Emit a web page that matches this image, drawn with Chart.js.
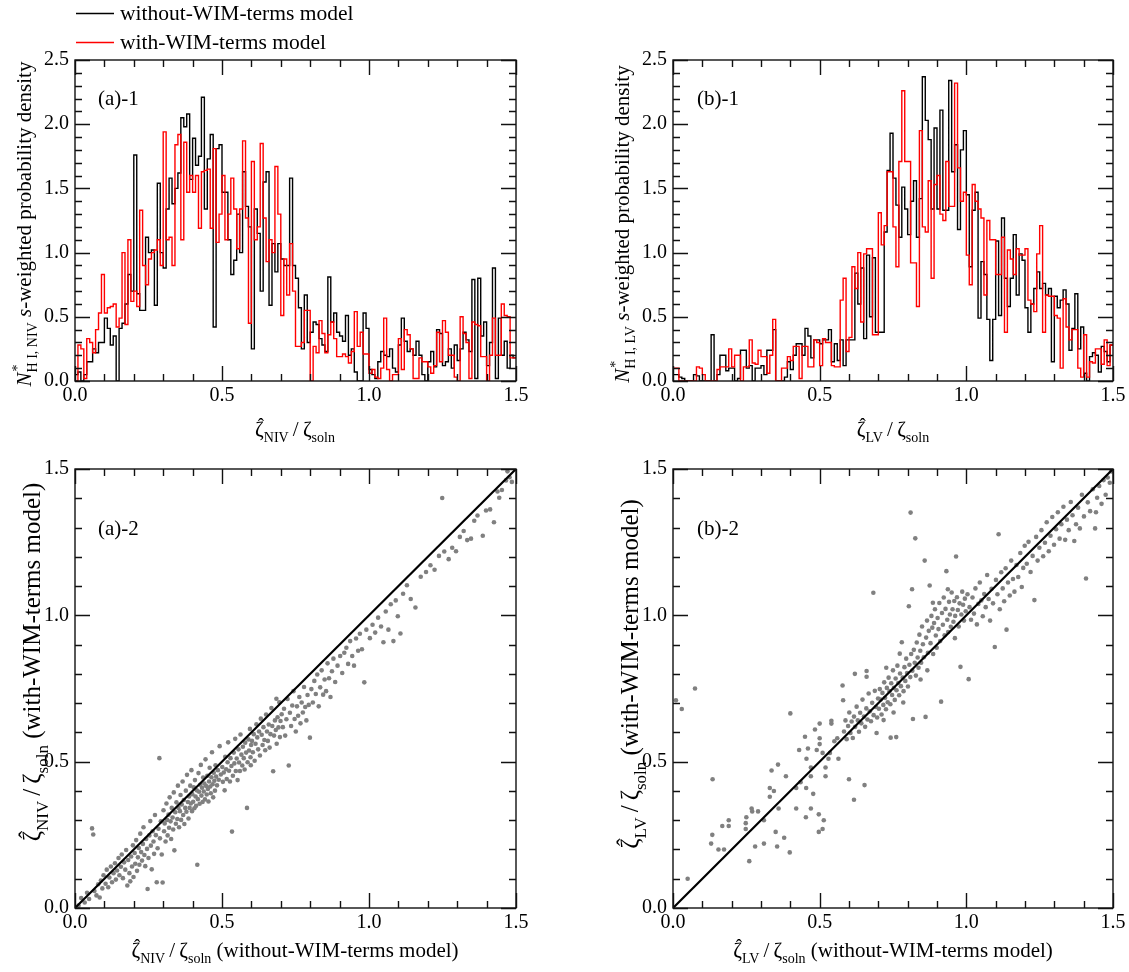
<!DOCTYPE html>
<html>
<head>
<meta charset="utf-8">
<script src="https://cdn.jsdelivr.net/npm/chart.js@4.4.1/dist/chart.umd.min.js"></script>
<style>
  body { margin: 0; background: #fff; }
  #wrap { position: relative; width: 1129px; height: 972px; }
  canvas { position: absolute; }
</style>
</head>
<body>
<div id="wrap">
  <canvas id="a1" width="560" height="450" style="left:0;top:0"></canvas>
  <canvas id="b1" width="569" height="450" style="left:560px;top:0"></canvas>
  <canvas id="a2" width="560" height="522" style="left:0;top:450px"></canvas>
  <canvas id="b2" width="569" height="522" style="left:560px;top:450px"></canvas>
</div>
<script>
// Histogram bins: width 0.01, from 0.00 to 1.50
const BIN = 0.01;

// (a)-1  NIV, without-WIM-terms model (black)
const aWithout = [
  0.05, 0.07, 0.0, 0.05, 0.15, 0.15, 0.25, 0.22, 0.3, 0.3,
  0.49, 0.41, 0.28, 0.35, 0.0, 0.41, 0.45, 0.6, 0.83, 0.7,
  1.76, 0.68, 0.55, 0.55, 1.12, 1.0, 1.02, 0.59, 1.54, 1.0,
  0.88, 1.34, 1.58, 1.38, 1.5, 1.62, 2.05, 1.98, 2.08, 1.57,
  1.89, 1.68, 1.75, 2.21, 1.34, 1.73, 1.92, 0.42, 1.81, 1.84,
  1.47, 1.47, 1.1, 0.83, 0.94, 1.3, 1.0, 1.63, 1.36, 1.2,
  0.25, 1.34, 1.15, 0.7, 1.55, 1.63, 0.59, 1.07, 0.85, 1.07,
  0.95, 0.9, 0.9, 1.58, 0.9, 0.8, 0.57, 0.25, 0.67, 0.3,
  0.38, 0.46, 0.44, 0.33, 0.28, 0.23, 0.81, 0.46, 0.53, 0.38,
  0.35, 0.31, 0.51, 0.2, 0.25, 0.07, 0.0, 0.0, 0.53, 0.41,
  0.09, 0.05, 0.02, 0.15, 0.23, 0.2, 0.19, 0.25, 0.1, 0.07,
  0.28, 0.49, 0.31, 0.23, 0.25, 0.2, 0.31, 0.2, 0.05, 0.0,
  0.15, 0.23, 0.11, 0.4, 0.37, 0.12, 0.15, 0.25, 0.1, 0.28,
  0.16, 0.25, 0.38, 0.32, 0.23, 0.79, 0.02, 0.8, 0.35, 0.46,
  0.12, 0.3, 0.88, 0.02, 0.49, 0.2, 0.31, 0.1, 0.2, 0.18
];

// (a)-1  NIV, with-WIM-terms model (red)
const aWith = [
  0.0, 0.28, 0.25, 0.02, 0.33, 0.3, 0.22, 0.4, 0.53, 0.83,
  0.53, 0.57, 0.58, 0.6, 0.42, 0.49, 1.0, 0.44, 1.1, 0.62,
  0.7, 0.58, 1.33, 0.9, 0.75, 0.95, 1.0, 1.02, 1.1, 0.9,
  1.94, 1.1, 1.12, 0.9, 1.84, 1.92, 1.1, 1.86, 1.47, 1.6,
  1.47, 1.6, 1.19, 1.63, 1.64, 1.65, 1.19, 1.81, 1.08, 1.3,
  1.6, 1.1, 1.3, 1.58, 1.34, 1.03, 1.34, 1.87, 1.27, 0.45,
  1.71, 1.1, 1.2, 1.85, 1.27, 0.93, 1.1, 1.0, 1.67, 1.3,
  0.51, 0.95, 0.67, 1.07, 0.7, 0.27, 0.27, 0.3, 0.55, 0.55,
  0.0, 0.27, 0.22, 0.47, 0.37, 0.22, 0.36, 0.46, 0.33, 0.19,
  0.19, 0.21, 0.19, 0.14, 0.23, 0.54, 0.27, 0.38, 0.21, 0.21,
  0.06, 0.09, 0.03, 0.02, 0.1, 0.49, 0.09, 0.0, 0.05, 0.05,
  0.33, 0.09, 0.4, 0.36, 0.25, 0.02, 0.02, 0.18, 0.15, 0.15,
  0.11, 0.06, 0.12, 0.38, 0.15, 0.47, 0.38, 0.2, 0.2, 0.03,
  0.0, 0.5, 0.37, 0.3, 0.02, 0.46, 0.44, 0.43, 0.19, 0.19,
  0.0, 0.2, 0.49, 0.2, 0.2, 0.6, 0.51, 0.5, 0.18, 0.18
];

// (b)-1  LV, without-WIM-terms model (black)
const bWithout = [
  0.05, 0.05, 0.03, 0.02, 0.0, 0.0, 0.0, 0.05, 0.04, 0.0,
  0.0, 0.0, 0.0, 0.36, 0.0, 0.05, 0.2, 0.2, 0.08, 0.1,
  0.1, 0.0, 0.02, 0.24, 0.24, 0.1, 0.12, 0.0, 0.1, 0.1,
  0.12, 0.05, 0.24, 0.24, 0.4, 0.0, 0.0, 0.0, 0.03, 0.15,
  0.09, 0.2, 0.29, 0.29, 0.2, 0.41, 0.35, 0.18, 0.32, 0.32,
  0.29, 0.32, 0.32, 0.4, 0.15, 0.29, 0.16, 0.32, 0.12, 0.32,
  0.32, 0.32, 0.84, 0.6, 0.88, 0.33, 0.98, 0.5, 0.96, 0.38,
  0.38, 0.38, 1.16, 1.64, 1.93, 1.58, 1.37, 1.12, 1.51, 1.34,
  1.14, 1.4, 1.56, 1.12, 1.42, 2.37, 2.03, 1.88, 1.34, 1.97,
  1.34, 2.11, 1.33, 1.33, 2.34, 1.63, 1.84, 1.18, 1.8, 1.95,
  1.45, 0.89, 1.33, 1.47, 0.49, 0.93, 0.83, 0.48, 0.16, 0.48,
  1.09, 0.51, 1.27, 0.8, 0.58, 0.8, 1.14, 0.67, 0.99, 0.94,
  0.57, 0.38, 0.6, 0.72, 0.85, 0.72, 0.76, 0.67, 0.72, 0.15,
  0.66, 0.57, 0.63, 0.71, 0.6, 0.24, 0.41, 0.68, 0.25, 0.42,
  0.06, 0.0, 0.19, 0.22, 0.2, 0.07, 0.27, 0.23, 0.15, 0.28
];

// (b)-1  LV, with-WIM-terms model (red)
const bWith = [
  0.1, 0.1, 0.0, 0.0, 0.0, 0.0, 0.0, 0.0, 0.11, 0.1,
  0.05, 0.0, 0.0, 0.0, 0.0, 0.09, 0.11, 0.11, 0.11, 0.25,
  0.11, 0.2, 0.2, 0.0, 0.11, 0.11, 0.32, 0.14, 0.13, 0.24,
  0.19, 0.19, 0.06, 0.2, 0.48, 0.0, 0.0, 0.1, 0.1, 0.19,
  0.16, 0.27, 0.27, 0.02, 0.27, 0.27, 0.11, 0.11, 0.32, 0.3,
  0.12, 0.33, 0.3, 0.3, 0.12, 0.11, 0.11, 0.63, 0.8, 0.23,
  0.34, 0.89, 0.72, 1.0, 0.46, 0.99, 1.03, 1.03, 0.36, 0.36,
  1.31, 1.06, 1.21, 1.63, 1.63, 1.2, 0.89, 1.71, 2.26, 1.71,
  1.71, 0.92, 0.92, 0.58, 1.95, 1.2, 1.16, 1.56, 0.8, 1.53,
  1.6, 1.3, 1.25, 1.71, 1.36, 1.36, 2.32, 1.66, 1.4, 1.47,
  0.98, 0.75, 1.53, 1.4, 1.34, 1.27, 0.67, 1.25, 1.1, 1.1,
  0.83, 0.83, 1.12, 0.38, 1.02, 0.95, 0.83, 1.03, 0.98, 0.98,
  1.03, 0.63, 0.6, 0.54, 0.99, 1.21, 0.38, 0.67, 0.66, 0.66,
  0.51, 0.49, 0.1, 0.64, 0.42, 0.32, 0.4, 0.4, 0.1, 0.03,
  0.36, 0.03, 0.15, 0.14, 0.25, 0.25, 0.13, 0.32, 0.12, 0.28
];

// (a)-2  NIV: [without-WIM, with-WIM]
const aScatter = [
  [0.012,0.008],[0.021,0.034],[0.033,0.019],[0.041,0.052],[0.048,0.031],[0.058,0.272],[0.062,0.251],[0.066,0.058],[0.073,0.043],[0.079,0.081],
  [0.084,0.036],[0.088,0.094],[0.093,0.067],[0.097,0.112],[0.104,0.083],[0.108,0.131],[0.113,0.071],[0.117,0.104],[0.122,0.142],[0.126,0.088],
  [0.131,0.119],[0.136,0.153],[0.139,0.097],[0.143,0.128],[0.148,0.171],[0.151,0.112],[0.156,0.141],[0.159,0.183],[0.163,0.102],[0.167,0.156],
  [0.171,0.131],[0.174,0.198],[0.178,0.077],[0.181,0.164],[0.185,0.119],[0.188,0.091],[0.191,0.176],[0.194,0.142],[0.197,0.214],[0.199,0.106],
  [0.203,0.188],[0.205,0.151],[0.208,0.232],[0.211,0.127],[0.214,0.173],[0.217,0.205],[0.219,0.148],[0.222,0.254],[0.225,0.191],[0.228,0.162],
  [0.231,0.219],[0.233,0.276],[0.236,0.181],[0.239,0.143],[0.242,0.236],[0.245,0.202],[0.247,0.065],[0.25,0.171],[0.253,0.248],[0.256,0.297],
  [0.258,0.213],[0.261,0.132],[0.264,0.262],[0.267,0.227],[0.269,0.185],[0.272,0.318],[0.275,0.249],[0.278,0.088],[0.281,0.204],[0.284,0.271],
  [0.287,0.512],[0.289,0.238],[0.292,0.296],[0.295,0.183],[0.298,0.087],
  [0.301,0.334],[0.303,0.262],[0.305,0.289],[0.308,0.227],[0.311,0.357],[0.313,0.301],[0.315,0.248],[0.318,0.319],[0.32,0.274],[0.322,0.378],
  [0.325,0.296],[0.327,0.236],[0.329,0.342],[0.332,0.309],[0.334,0.268],[0.336,0.395],[0.338,0.197],[0.341,0.327],[0.343,0.288],[0.345,0.361],
  [0.348,0.304],[0.35,0.418],[0.352,0.342],[0.354,0.276],[0.357,0.331],[0.359,0.386],[0.361,0.301],[0.363,0.354],[0.366,0.432],[0.368,0.318],
  [0.37,0.369],[0.372,0.287],[0.375,0.342],[0.377,0.401],[0.379,0.329],[0.381,0.455],[0.384,0.362],[0.386,0.306],[0.388,0.381],[0.39,0.342],
  [0.392,0.418],[0.394,0.357],[0.396,0.471],[0.398,0.331],[0.399,0.389],
  [0.402,0.363],[0.404,0.412],[0.406,0.341],[0.408,0.437],[0.41,0.381],[0.412,0.349],[0.414,0.402],[0.416,0.148],[0.418,0.372],[0.42,0.461],
  [0.422,0.397],[0.424,0.356],[0.426,0.421],[0.428,0.489],[0.43,0.384],[0.432,0.411],[0.434,0.362],[0.436,0.446],[0.438,0.398],[0.44,0.425],
  [0.442,0.371],[0.444,0.508],[0.446,0.417],[0.448,0.388],[0.45,0.452],[0.452,0.407],[0.454,0.364],[0.456,0.432],[0.458,0.479],[0.46,0.415],
  [0.462,0.392],[0.464,0.447],[0.466,0.532],[0.468,0.423],[0.47,0.378],[0.472,0.462],[0.474,0.435],[0.476,0.401],[0.478,0.488],[0.48,0.449],
  [0.483,0.419],[0.486,0.471],[0.489,0.438],[0.492,0.553],[0.496,0.456],
  [0.501,0.482],[0.503,0.431],[0.506,0.463],[0.509,0.402],[0.511,0.517],[0.514,0.474],[0.516,0.441],[0.519,0.498],[0.521,0.566],[0.524,0.469],
  [0.527,0.432],[0.529,0.512],[0.532,0.485],[0.534,0.261],[0.537,0.452],[0.54,0.531],[0.542,0.494],[0.545,0.578],[0.547,0.468],[0.55,0.511],
  [0.553,0.437],[0.556,0.542],[0.558,0.497],[0.561,0.468],[0.563,0.593],[0.566,0.524],[0.569,0.487],[0.571,0.551],[0.574,0.512],[0.577,0.473],
  [0.579,0.565],[0.582,0.531],[0.585,0.342],[0.587,0.498],[0.59,0.576],[0.592,0.538],[0.595,0.612],[0.597,0.515],[0.599,0.557],[0.598,0.488],
  [0.602,0.571],[0.605,0.532],[0.608,0.594],[0.611,0.503],[0.614,0.561],[0.617,0.628],[0.62,0.583],[0.623,0.542],[0.626,0.603],[0.629,0.521],
  [0.632,0.647],[0.635,0.592],[0.638,0.557],[0.641,0.618],[0.644,0.574],[0.647,0.539],[0.65,0.661],[0.653,0.603],[0.656,0.571],[0.659,0.627],
  [0.662,0.548],[0.665,0.594],[0.668,0.683],[0.671,0.622],[0.674,0.467],[0.677,0.589],[0.68,0.641],[0.683,0.608],[0.686,0.561],[0.689,0.652],
  [0.692,0.617],[0.695,0.703],[0.697,0.584],[0.699,0.639],[0.685,0.715],
  [0.703,0.662],[0.707,0.618],[0.711,0.681],[0.715,0.589],[0.719,0.645],[0.723,0.714],[0.727,0.487],[0.731,0.667],[0.735,0.622],[0.739,0.692],
  [0.743,0.741],[0.747,0.646],[0.751,0.603],[0.755,0.689],[0.759,0.657],[0.763,0.721],[0.767,0.631],[0.771,0.702],[0.775,0.668],[0.779,0.755],
  [0.783,0.687],[0.787,0.641],[0.791,0.728],[0.795,0.694],[0.799,0.582],
  [0.804,0.748],[0.809,0.702],[0.814,0.776],[0.819,0.731],[0.824,0.798],[0.829,0.689],[0.834,0.754],[0.839,0.812],[0.844,0.729],[0.849,0.781],
  [0.854,0.741],[0.859,0.836],[0.864,0.785],[0.869,0.721],[0.874,0.809],[0.879,0.852],[0.885,0.772],[0.893,0.828],
  [0.902,0.861],[0.909,0.803],[0.916,0.872],[0.923,0.889],[0.929,0.834],[0.936,0.912],[0.943,0.861],[0.949,0.828],[0.956,0.921],[0.963,0.879],
  [0.969,0.937],[0.976,0.884],[0.984,0.771],[0.991,0.951],
  [1.003,0.922],[1.012,0.968],[1.021,0.941],[1.031,0.992],[1.041,0.962],[1.049,0.908],[1.057,1.013],[1.066,0.951],[1.074,1.038],[1.083,0.912],
  [1.091,1.051],[1.098,0.997],[1.107,0.938],[1.116,1.074],[1.129,1.103],[1.142,1.056],[1.158,1.027],[1.176,1.132],
  [1.194,1.148],[1.209,1.171],[1.223,1.156],[1.238,1.203],[1.249,1.401],[1.256,1.218],[1.271,1.192],[1.283,1.231],[1.296,1.219],[1.309,1.268],
  [1.322,1.288],[1.334,1.257],[1.347,1.262],[1.358,1.323],[1.369,1.341],[1.387,1.272],[1.398,1.358],[1.412,1.362],[1.425,1.318],[1.437,1.423],
  [1.452,1.428],[1.466,1.461],[1.478,1.472],[1.471,1.492],[1.443,1.402],[1.486,1.456]
];

// (b)-2  LV: [without-WIM, with-WIM]
const bScatter = [
  [0.03,0.68],[0.01,0.71],[0.075,0.75],[0.05,0.10],[0.135,0.44],[0.13,0.22],[0.134,0.25],[0.155,0.20],[0.174,0.20],[0.168,0.28],
  [0.19,0.30],[0.19,0.28],[0.248,0.27],[0.248,0.29],[0.25,0.31],[0.268,0.34],[0.27,0.33],[0.29,0.33],[0.26,0.16],[0.28,0.21],
  [0.31,0.22],[0.31,0.30],[0.33,0.38],[0.33,0.41],[0.344,0.40],[0.336,0.47],[0.358,0.49],[0.36,0.34],[0.35,0.26],[0.355,0.21],
  [0.379,0.24],[0.385,0.45],[0.398,0.19],[0.40,0.665],[0.42,0.41],[0.42,0.34],[0.435,0.43],[0.43,0.54],[0.45,0.585],[0.453,0.31],
  [0.454,0.41],[0.455,0.51],[0.46,0.545],[0.47,0.45],[0.47,0.34],[0.478,0.39],[0.47,0.48],[0.484,0.61],[0.49,0.54],[0.497,0.32],
  [0.497,0.26],[0.50,0.63],[0.50,0.58],[0.50,0.56],[0.51,0.27],[0.514,0.30],[0.52,0.45],[0.52,0.48],[0.51,0.53],[0.53,0.51],
  [0.54,0.63],[0.535,0.53],[0.54,0.64],[0.55,0.57],[0.564,0.51],[0.56,0.58],[0.578,0.76],[0.58,0.71],[0.60,0.44],[0.617,0.37],
  [0.62,0.80],[0.653,0.42],[0.66,0.81],[0.66,0.79],
  [0.583,0.603],[0.588,0.641],[0.592,0.577],[0.597,0.622],[0.601,0.668],[0.605,0.598],[0.609,0.637],[0.613,0.581],[0.617,0.654],[0.621,0.619],
  [0.626,0.688],[0.63,0.641],[0.634,0.602],[0.638,0.667],[0.642,0.631],[0.646,0.712],[0.651,0.654],[0.655,0.619],[0.659,0.682],[0.663,0.644],
  [0.667,0.733],[0.671,0.672],[0.675,0.638],[0.679,0.701],[0.684,0.659],[0.688,0.742],[0.692,0.687],[0.696,0.651],[0.699,0.716],[0.694,0.598],
  [0.683,1.077],
  [0.702,0.681],[0.705,0.748],[0.708,0.712],[0.711,0.661],[0.714,0.735],[0.717,0.694],[0.72,0.771],[0.723,0.718],[0.726,0.679],[0.729,0.752],
  [0.732,0.703],[0.735,0.787],[0.738,0.741],[0.741,0.696],[0.744,0.768],[0.747,0.728],[0.75,0.812],[0.753,0.752],[0.756,0.711],[0.759,0.784],
  [0.762,0.744],[0.765,0.828],[0.768,0.769],[0.771,0.727],[0.774,0.801],[0.777,0.758],[0.78,0.908],[0.783,0.787],[0.786,0.741],[0.789,0.823],
  [0.792,0.776],[0.795,0.852],[0.798,0.803],[0.742,0.582],[0.761,0.584],[0.727,0.821],[0.752,0.668],[0.773,0.869],[0.718,0.642],[0.785,0.702],
  [0.801,0.757],[0.804,1.031],[0.806,0.831],[0.809,0.789],[0.81,1.351],[0.812,0.868],[0.815,1.089],[0.816,0.811],[0.818,0.646],[0.821,0.882],
  [0.824,0.838],[0.826,1.263],[0.828,0.794],[0.831,0.907],[0.834,0.856],[0.837,0.821],[0.84,0.934],[0.843,0.879],[0.846,0.838],[0.849,0.962],
  [0.852,0.901],[0.855,0.857],[0.858,1.187],[0.861,0.653],[0.863,0.924],[0.866,0.982],[0.869,0.872],[0.872,0.947],[0.875,1.102],[0.878,0.905],
  [0.881,0.998],[0.884,0.958],[0.887,0.868],[0.89,0.974],[0.893,1.021],[0.896,0.931],[0.899,0.889],[0.886,1.043],[0.844,0.781],[0.867,0.812],
  [0.902,0.991],[0.905,0.953],[0.908,1.042],[0.911,0.912],[0.914,0.705],[0.917,1.008],[0.92,0.968],[0.923,1.061],[0.926,0.932],[0.929,1.022],
  [0.932,1.151],[0.935,0.985],[0.938,0.943],[0.941,1.046],[0.944,1.003],[0.947,0.961],[0.95,1.078],[0.953,1.021],[0.956,0.978],[0.959,1.049],
  [0.962,0.998],[0.965,1.201],[0.968,1.062],[0.971,1.018],[0.974,0.962],[0.977,1.041],[0.98,0.824],[0.983,1.003],[0.986,1.081],[0.989,1.036],
  [0.992,0.982],[0.995,1.057],[0.998,1.014],[0.961,0.922],[0.937,1.089],
  [1.004,1.072],[1.008,0.782],[1.011,1.028],[1.016,0.985],[1.021,1.061],[1.026,1.006],[1.031,1.092],[1.036,0.969],[1.041,1.039],[1.046,1.112],
  [1.051,1.051],[1.056,0.997],[1.061,1.073],[1.066,1.028],[1.071,1.138],[1.076,1.056],[1.081,0.982],[1.086,1.091],[1.091,1.041],[1.097,0.892],
  [1.101,1.121],[1.106,1.072],[1.11,1.277],[1.114,1.021],[1.119,1.147],[1.124,1.092],[1.129,1.048],[1.134,1.161],[1.137,0.951],[1.142,1.112],
  [1.148,1.068],[1.153,1.187],[1.159,1.124],[1.164,1.081],[1.171,1.172],[1.177,1.131],[1.184,1.213],[1.189,1.097],[1.194,1.162],[1.199,1.238],
  [1.206,1.176],[1.212,1.251],[1.219,1.148],[1.226,1.203],[1.232,1.052],[1.238,1.268],[1.243,1.187],[1.249,1.231],[1.256,1.291],[1.262,1.202],
  [1.268,1.248],[1.274,1.318],[1.281,1.219],[1.287,1.272],[1.293,1.336],[1.299,1.241],[1.306,1.294],[1.312,1.352],[1.318,1.262],[1.324,1.311],
  [1.331,1.371],[1.337,1.258],[1.343,1.327],[1.349,1.291],[1.356,1.387],[1.362,1.342],[1.368,1.254],[1.374,1.311],[1.381,1.368],[1.387,1.297],
  [1.394,1.412],[1.401,1.338],[1.408,1.126],[1.414,1.386],[1.422,1.356],[1.431,1.431],[1.439,1.297],[1.446,1.402],[1.453,1.442],[1.461,1.381],
  [1.468,1.462],[1.475,1.412],[1.482,1.471],[1.489,1.453],[1.494,1.492],[1.442,1.352]
];

// y = x reference line (ends of the axis range)
const identityEnds = [0, 1.5];

const FONT = "'Liberation Serif', 'Times New Roman', serif";
const TICK_SIZE = 20;
const TITLE_SIZE = 21;
const SCATTER_YTITLE_SIZE = 25;

Chart.defaults.font.family = FONT;
Chart.defaults.color = '#000';

// draws text with italic / sub / sup / hat parts; item = [text, style]
function drawRich(ctx, parts, x, y, size, rotate) {
  ctx.save();
  ctx.translate(x, y);
  if (rotate) ctx.rotate(-Math.PI / 2);
  const small = Math.round(size * 0.66);
  const fontOf = st => (st === 'i' ? 'italic ' : '') + ((st === 'sub' || st === 'sup') ? small : size) + 'px ' + FONT;
  let total = 0;
  const widths = parts.map(([t, st]) => {
    ctx.font = fontOf(st);
    const w = st === 'sup' ? 0 : ctx.measureText(t).width;
    total += w;
    return w;
  });
  let cx = -total / 2;
  ctx.fillStyle = '#000';
  ctx.textAlign = 'left';
  ctx.textBaseline = 'alphabetic';
  parts.forEach(([t, st], i) => {
    ctx.font = fontOf(st);
    const dy = st === 'sub' ? size * 0.3 : st === 'sup' ? -size * 0.42 : 0;
    ctx.fillText(t, cx + (st === 'sup' ? 1 : 0), dy);
    if (st === 'hat') {
      ctx.font = Math.round(size * 0.9) + 'px ' + FONT;
      ctx.textAlign = 'center';
      ctx.fillText('\u02C6', cx + widths[i] / 2 + 1.5, -size * 0.22);
      ctx.textAlign = 'left';
    }
    cx += widths[i];
  });
  ctx.restore();
}

function plainText(ctx, text, x, y, size) {
  ctx.save();
  ctx.font = size + 'px ' + FONT;
  ctx.fillStyle = '#000';
  ctx.textAlign = 'left';
  ctx.textBaseline = 'alphabetic';
  ctx.fillText(text, x, y);
  ctx.restore();
}

// frame and inward ticks on all four sides (major 0.5, minor 0.1)
const framePlugin = {
  id: 'frame',
  afterDatasetsDraw(chart) {
    const { ctx, chartArea: a, scales: { x, y } } = chart;
    ctx.save();
    ctx.strokeStyle = '#111';
    ctx.lineWidth = 1.4;
    ctx.strokeRect(a.left, a.top, a.right - a.left, a.bottom - a.top);
    ctx.beginPath();
    const nx = Math.round(x.max * 10);
    for (let k = 0; k <= nx; k++) {
      const px = Math.round(x.getPixelForValue(k / 10)) + 0.5;
      const len = k % 5 === 0 ? 15 : 7;
      ctx.moveTo(px, a.bottom); ctx.lineTo(px, a.bottom - len);
      ctx.moveTo(px, a.top); ctx.lineTo(px, a.top + len);
    }
    const ny = Math.round(y.max * 10);
    for (let k = 0; k <= ny; k++) {
      const py = Math.round(y.getPixelForValue(k / 10)) + 0.5;
      const len = k % 5 === 0 ? 15 : 7;
      ctx.moveTo(a.left, py); ctx.lineTo(a.left + len, py);
      ctx.moveTo(a.right, py); ctx.lineTo(a.right - len, py);
    }
    ctx.stroke();
    ctx.restore();
  }
};

function axes(yMax, yWidth, xHeight) {
  const tickFont = { family: FONT, size: TICK_SIZE };
  return {
    x: {
      type: 'linear', min: 0, max: 1.5,
      grid: { display: false, drawTicks: false }, border: { display: false },
      ticks: { stepSize: 0.5, padding: 3, maxRotation: 0, color: '#000', font: tickFont, callback: v => v.toFixed(1) },
      afterFit: s => { s.height = xHeight; s.paddingLeft = 0; s.paddingRight = 0; }
    },
    y: {
      type: 'linear', min: 0, max: yMax,
      grid: { display: false, drawTicks: false }, border: { display: false },
      ticks: { stepSize: 0.5, padding: 6, color: '#000', font: tickFont, callback: v => v.toFixed(1) },
      afterFit: s => { s.width = yWidth; s.paddingTop = 0; s.paddingBottom = 0; }
    }
  };
}

function stepData(values) {
  const pts = values.map((v, i) => ({ x: i * BIN, y: v }));
  pts.push({ x: values.length * BIN, y: values[values.length - 1] });
  return pts;
}

function histChart(id, without, withWim, yWidth, padRight, labels) {
  return new Chart(document.getElementById(id), {
    type: 'line',
    data: {
      datasets: [
        { data: stepData(withWim), borderColor: '#ff0000', borderWidth: 1.4, pointRadius: 0, stepped: true, fill: false },
        { data: stepData(without), borderColor: '#000000', borderWidth: 1.4, pointRadius: 0, stepped: true, fill: false }
      ]
    },
    options: {
      responsive: false,
      animation: false,
      events: [],
      layout: { padding: { left: 0, top: 60, right: padRight, bottom: 0 } },
      plugins: { legend: { display: false }, tooltip: { enabled: false } },
      scales: axes(2.5, yWidth, 69)
    },
    plugins: [framePlugin, { id: 'labels', afterDraw: labels }]
  });
}

function scatterChart(id, pairs, yWidth, padRight, labels) {
  return new Chart(document.getElementById(id), {
    type: 'scatter',
    data: {
      datasets: [
        { type: 'line', data: identityEnds.map(v => ({ x: v, y: v })), borderColor: '#000', borderWidth: 2.2, pointRadius: 0, fill: false },
        { data: pairs.map(([x, y]) => ({ x, y })), pointRadius: 2.3, pointBackgroundColor: '#808080', pointBorderWidth: 0 }
      ]
    },
    options: {
      responsive: false,
      animation: false,
      events: [],
      layout: { padding: { left: 0, top: 19, right: padRight, bottom: 0 } },
      plugins: { legend: { display: false }, tooltip: { enabled: false } },
      scales: axes(1.5, yWidth, 64)
    },
    plugins: [framePlugin, { id: 'labels', afterDraw: labels }]
  });
}

const zNIV = [['\u03B6', 'hat'], ['NIV', 'sub'], ['\u2009/\u2009'], ['\u03B6'], ['soln', 'sub']];
const zLV = [['\u03B6', 'hat'], ['LV', 'sub'], ['\u2009/\u2009'], ['\u03B6'], ['soln', 'sub']];

// (a)-1
histChart('a1', aWithout, aWith, 75, 44, chart => {
  const ctx = chart.ctx;
  // legend
  ctx.save();
  ctx.lineWidth = 1.5;
  ctx.strokeStyle = '#000';
  ctx.beginPath(); ctx.moveTo(76, 13.5); ctx.lineTo(114, 13.5); ctx.stroke();
  ctx.strokeStyle = '#ff0000';
  ctx.beginPath(); ctx.moveTo(76, 42.5); ctx.lineTo(114, 42.5); ctx.stroke();
  ctx.restore();
  plainText(ctx, 'without-WIM-terms model', 120, 20, 21.5);
  plainText(ctx, 'with-WIM-terms model', 120, 49, 21.5);
  plainText(ctx, '(a)-1', 98, 105, 21);
  drawRich(ctx, [['N', 'i'], ['*', 'sup'], ['H I, NIV', 'sub'], [' '], ['s', 'i'], ['-weighted probability density']], 31, 224, TITLE_SIZE, true);
  drawRich(ctx, zNIV, 295, 436, TITLE_SIZE, false);
});

// (b)-1
histChart('b1', bWithout, bWith, 113, 16, chart => {
  const ctx = chart.ctx;
  plainText(ctx, '(b)-1', 137, 105, 21);
  drawRich(ctx, [['N', 'i'], ['*', 'sup'], ['H I, LV', 'sub'], [' '], ['s', 'i'], ['-weighted probability density']], 69, 224, TITLE_SIZE, true);
  drawRich(ctx, zLV, 333, 436, TITLE_SIZE, false);
});

// (a)-2
scatterChart('a2', aScatter, 75, 44, chart => {
  const ctx = chart.ctx;
  plainText(ctx, '(a)-2', 98, 85, 21);
  drawRich(ctx, zNIV.concat([[' (with-WIM-terms model)']]), 40, 212, SCATTER_YTITLE_SIZE, true);
  drawRich(ctx, zNIV.concat([[' (without-WIM-terms model)']]), 295, 507, TITLE_SIZE, false);
});

// (b)-2
scatterChart('b2', bScatter, 113, 16, chart => {
  const ctx = chart.ctx;
  plainText(ctx, '(b)-2', 137, 85, 21);
  drawRich(ctx, zLV.concat([[' (with-WIM-terms model)']]), 78, 224, SCATTER_YTITLE_SIZE, true);
  drawRich(ctx, zLV.concat([[' (without-WIM-terms model)']]), 333, 507, TITLE_SIZE, false);
});
</script>
</body>
</html>
